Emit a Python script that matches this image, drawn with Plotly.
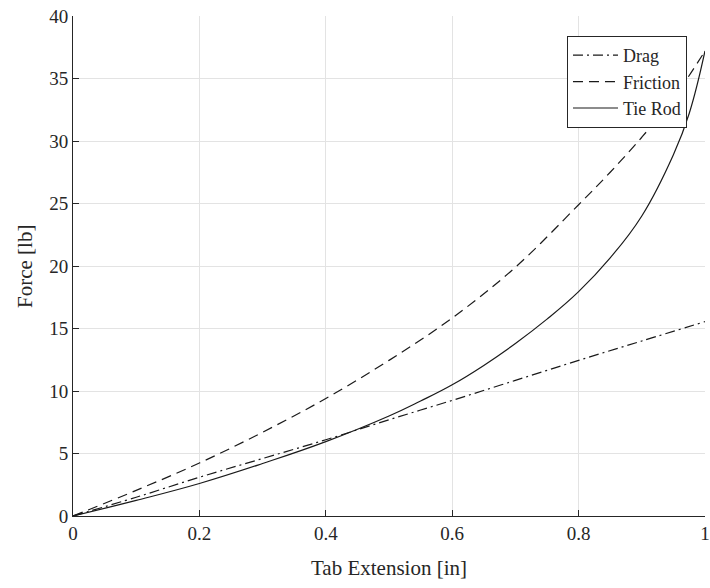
import plotly.graph_objects as go

x_drag = [0, 0.1, 0.2, 0.3, 0.4, 0.5, 0.6, 0.7, 0.8, 0.9, 1.0]
y_drag = [0, 1.5, 3.1, 4.6, 6.1, 7.7, 9.25, 10.85, 12.45, 14.0, 15.55]

x_fric = [0, 0.1, 0.2, 0.3, 0.4, 0.5, 0.6, 0.7, 0.8, 0.85, 0.9, 0.95, 1.0]
y_fric = [0, 2.05, 4.24, 6.7, 9.4, 12.45, 15.84, 19.9, 24.9, 27.5, 30.3, 33.4, 37.2]

x_tie = [0, 0.1, 0.2, 0.3, 0.4, 0.5, 0.55, 0.6, 0.65, 0.7, 0.75, 0.8, 0.85, 0.9, 0.95, 0.975, 1.0]
y_tie = [0, 1.25, 2.6, 4.2, 5.95, 8.0, 9.2, 10.5, 12.05, 13.8, 15.75, 17.95, 20.65, 24.0, 28.9, 32.2, 37.2]

x_ticks = [0, 0.2, 0.4, 0.6, 0.8, 1]
x_tick_labels = ["0", "0.2", "0.4", "0.6", "0.8", "1"]
y_ticks = [0, 5, 10, 15, 20, 25, 30, 35, 40]

LINE = "#1a1a1a"
TXT = "#262626"
FONT = "Liberation Serif, Times New Roman, serif"

fig = go.Figure()
fig.add_trace(go.Scatter(x=x_drag, y=y_drag, mode="lines", name="Drag",
                         line=dict(color=LINE, width=1.2, dash="10px,4px,2px,4px", shape="spline", smoothing=1.0)))
fig.add_trace(go.Scatter(x=x_fric, y=y_fric, mode="lines", name="Friction",
                         line=dict(color=LINE, width=1.2, dash="10px,6px", shape="spline", smoothing=1.0)))
fig.add_trace(go.Scatter(x=x_tie, y=y_tie, mode="lines", name="Tie Rod",
                         line=dict(color=LINE, width=1.2, shape="spline", smoothing=1.2)))

fig.update_layout(
    width=710, height=588,
    margin=dict(l=73, r=5, t=16, b=72, autoexpand=False),
    paper_bgcolor="white", plot_bgcolor="white",
    font=dict(family=FONT, size=19, color=TXT),
    showlegend=True,
    legend=dict(x=0.9715, y=0.96, xanchor="right", yanchor="top",
                bgcolor="white", bordercolor=TXT, borderwidth=1,
                font=dict(family=FONT, size=18, color=TXT),
                tracegroupgap=0, itemwidth=45),
    annotations=[
        dict(text="Tab Extension [in]", xref="paper", yref="paper", x=0.5, y=-0.104,
             xanchor="center", yanchor="middle", showarrow=False,
             font=dict(family=FONT, size=21, color=TXT)),
        dict(text="Force [lb]", xref="paper", yref="paper", x=-0.076, y=0.5,
             xanchor="center", yanchor="middle", showarrow=False, textangle=-90,
             font=dict(family=FONT, size=21, color=TXT)),
    ],
)
fig.update_xaxes(range=[0, 1], tickvals=x_ticks, ticktext=x_tick_labels, automargin=False,
                 showgrid=True, gridcolor="#e3e3e3", gridwidth=1,
                 showline=True, linecolor=TXT, linewidth=1,
                 ticks="inside", ticklen=6, tickcolor=TXT,
                 zeroline=False, mirror=False, tickfont=dict(size=19))
fig.update_yaxes(range=[0, 40], tickvals=y_ticks, automargin=False,
                 showgrid=True, gridcolor="#e3e3e3", gridwidth=1,
                 showline=True, linecolor=TXT, linewidth=1,
                 ticks="inside", ticklen=6, tickcolor=TXT,
                 zeroline=False, mirror=False, tickfont=dict(size=19))

fig.write_html("out.html", config={"displayModeBar": False},
               post_script="document.body.style.margin='0';document.body.style.padding='0';")
